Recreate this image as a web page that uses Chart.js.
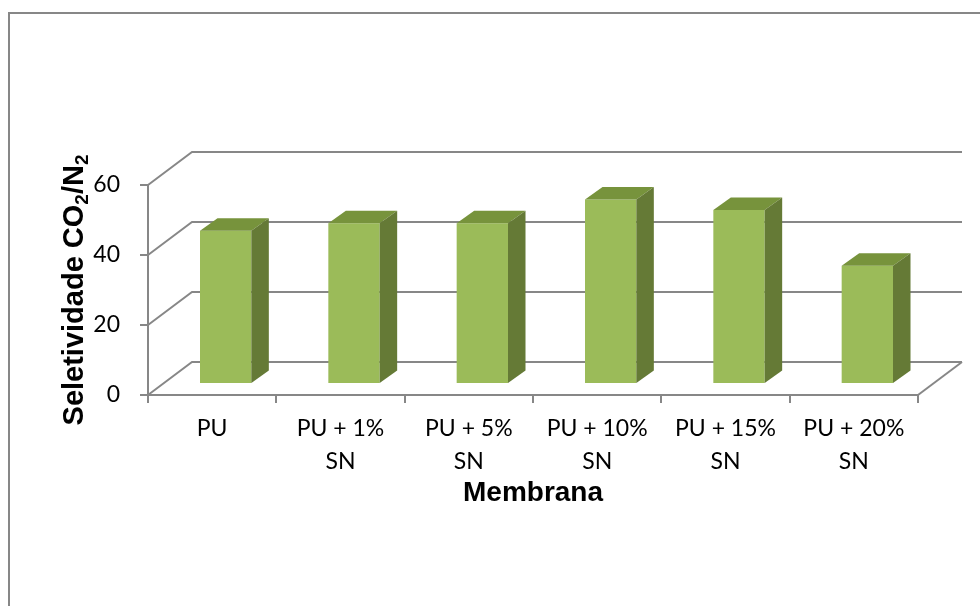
<!DOCTYPE html>
<html>
<head>
<meta charset="utf-8">
<script src="https://cdn.jsdelivr.net/npm/chart.js@4/dist/chart.umd.min.js"></script>
<style>
  html, body { margin: 0; padding: 0; background: #fff; }
  #wrap { width: 980px; height: 606px; }
</style>
</head>
<body>
<div id="wrap"><canvas id="myChart" width="980" height="606"></canvas></div>
<script>
// dados do grafico
var membranas = [["PU"], ["PU + 1%", "SN"], ["PU + 5%", "SN"], ["PU + 10%", "SN"], ["PU + 15%", "SN"], ["PU + 20%", "SN"]];
var seletividade = [43.8, 45.9, 45.9, 52.7, 49.7, 33.8];
var yTicks = [0, 20, 40, 60];
var tituloX = "Membrana";
var tituloY = [["Seletividade CO", false], ["2", true], ["/N", false], ["2", true]];

// perspectiva 3D
var DX = 44, DY = -33;      // profundidade das paredes
var BX = 13.5, BY = -11;    // deslocamento da face frontal da barra
var SX = 17.5, SY = -12.5;  // profundidade da barra
var cinza = "#878787";

var efeito3d = {
	id: "efeito3d",
	beforeDraw: function(chart) {
		var c = chart.ctx;
		c.save();
		c.strokeStyle = cinza;
		c.lineWidth = 2;
		c.beginPath();
		c.moveTo(9, 606);
		c.lineTo(9, 13);
		c.lineTo(980, 13);
		c.stroke();
		c.restore();
	},
	beforeDatasetsDraw: function(chart) {
		var c = chart.ctx, x = chart.scales.x, y = chart.scales.y;
		c.save();
		c.strokeStyle = cinza;
		c.lineWidth = 2;
		yTicks.forEach(function(v) {
			var py = y.getPixelForValue(v);
			c.beginPath();
			c.moveTo(x.left, py);
			c.lineTo(x.left + DX, py + DY);
			c.lineTo(x.right + DX, py + DY);
			c.stroke();
		});
		var p0 = y.getPixelForValue(0);
		c.beginPath();
		c.moveTo(x.right, p0);
		c.lineTo(x.right + DX, p0 + DY);
		c.stroke();
		c.restore();
		c.save();
		c.translate(BX, BY);
	},
	afterDatasetsDraw: function(chart) {
		var c = chart.ctx;
		chart.getDatasetMeta(0).data.forEach(function(bar) {
			var p = bar.getProps(["x", "y", "base", "width"], true);
			var l = p.x - p.width / 2, r = p.x + p.width / 2;
			// topo
			c.fillStyle = "#77933c";
			c.beginPath();
			c.moveTo(l, p.y);
			c.lineTo(r, p.y);
			c.lineTo(r + SX, p.y + SY);
			c.lineTo(l + SX, p.y + SY);
			c.closePath();
			c.fill();
			// lateral
			c.fillStyle = "#657a36";
			c.beginPath();
			c.moveTo(r, p.y);
			c.lineTo(r + SX, p.y + SY);
			c.lineTo(r + SX, p.base + SY);
			c.lineTo(r, p.base);
			c.closePath();
			c.fill();
		});
		c.restore();
	},
	afterDraw: function(chart) {
		var c = chart.ctx, area = chart.chartArea;
		c.save();
		c.fillStyle = "#000";
		c.font = "bold 28px 'Liberation Sans', Arial, sans-serif";
		c.textAlign = "center";
		c.textBaseline = "middle";
		c.fillText(tituloX, (area.left + area.right) / 2, 493);

		// titulo do eixo y com subscritos
		var fonteN = "bold 29px 'Liberation Sans', Arial, sans-serif";
		var fonteS = "bold 19px 'Liberation Sans', Arial, sans-serif";
		var total = 0;
		tituloY.forEach(function(t) {
			c.font = t[1] ? fonteS : fonteN;
			total += c.measureText(t[0]).width;
		});
		c.translate(83, 290);
		c.rotate(-Math.PI / 2);
		c.textAlign = "left";
		c.textBaseline = "alphabetic";
		var pos = -total / 2;
		tituloY.forEach(function(t) {
			c.font = t[1] ? fonteS : fonteN;
			c.fillText(t[0], pos, t[1] ? 5 : 0);
			pos += c.measureText(t[0]).width;
		});
		c.restore();
	}
};

var ctx = document.getElementById("myChart");

var myChart = new Chart(ctx, {
	type: "bar",
	data: {
		labels: membranas,
		datasets: [{
			label: "Seletividade",
			data: seletividade,
			backgroundColor: "#9bbb59",
			borderWidth: 0,
			categoryPercentage: 1,
			barPercentage: 0.4,
			clip: false
		}]
	},
	options: {
		responsive: false,
		animation: false,
		layout: { padding: { left: 0, top: 185, right: 62, bottom: 0 } },
		plugins: {
			legend: { display: false },
			tooltip: { enabled: false }
		},
		scales: {
			x: {
				afterFit: function(scale) { scale.height = 211; },
				grid: { drawOnChartArea: false, drawTicks: true, tickLength: 8, color: cinza, lineWidth: 2, offset: true },
				border: { display: true, color: cinza, width: 2 },
				ticks: {
					color: "#000",
					padding: 9,
					maxRotation: 0,
					autoSkip: false,
					font: { family: "Lato", size: 23, lineHeight: 1.45 }
				}
			},
			y: {
				min: 0,
				max: 60,
				afterFit: function(scale) { scale.width = 148; },
				grid: { drawOnChartArea: false, drawTicks: true, tickLength: 8, color: cinza, lineWidth: 2 },
				border: { display: true, color: cinza, width: 2 },
				ticks: {
					stepSize: 20,
					color: "#000",
					padding: 20,
					font: { family: "Lato", size: 23 }
				}
			}
		}
	},
	plugins: [efeito3d]
});
</script>
</body>
</html>
